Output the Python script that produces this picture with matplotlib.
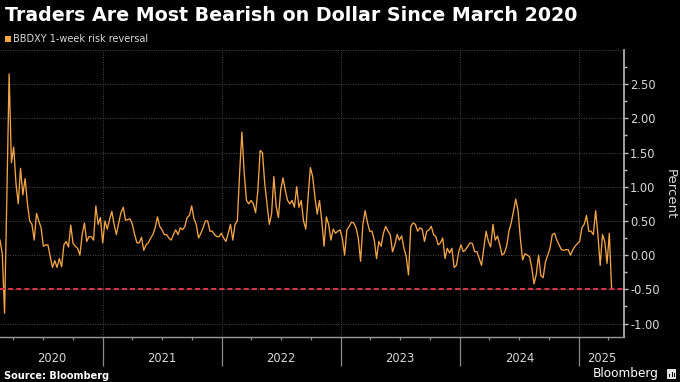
import matplotlib
matplotlib.use("Agg")
import matplotlib.pyplot as plt
import matplotlib.dates as mdates
import matplotlib.transforms as mtransforms
from matplotlib.patches import Rectangle
import pandas as pd

# ---------------- data (weekly readings of BBDXY 1-week risk reversal, %) ----------------
start_date = "2020-02-21"
rr_values = [
    0.22, 0.02, -0.85, 0.85, 2.65, 1.35, 1.58, 1.05, 0.75, 1.27,
    0.88, 1.12, 0.76, 0.50, 0.45, 0.22, 0.61, 0.50, 0.40, 0.13,
    0.15, 0.15, -0.02, -0.18, -0.08, -0.18, -0.05, -0.17, 0.15, 0.20,
    0.12, 0.44, 0.17, 0.13, 0.10, 0.00, 0.30, 0.47, 0.20, 0.27,
    0.27, 0.22, 0.72, 0.45, 0.55, 0.18, 0.50, 0.38, 0.52, 0.64,
    0.45, 0.30, 0.47, 0.62, 0.70, 0.51, 0.52, 0.53, 0.45, 0.30,
    0.18, 0.18, 0.26, 0.07, 0.15, 0.18, 0.25, 0.30, 0.40, 0.56,
    0.42, 0.37, 0.30, 0.30, 0.25, 0.22, 0.30, 0.37, 0.30, 0.40,
    0.37, 0.42, 0.55, 0.58, 0.72, 0.53, 0.45, 0.25, 0.32, 0.40,
    0.50, 0.50, 0.35, 0.35, 0.30, 0.27, 0.27, 0.32, 0.25, 0.20,
    0.32, 0.45, 0.22, 0.45, 0.50, 1.20, 1.80, 1.20, 0.80, 0.75,
    0.80, 0.75, 0.62, 0.95, 1.53, 1.50, 1.05, 0.75, 0.45, 0.60,
    1.15, 0.72, 0.55, 0.95, 1.13, 0.95, 0.80, 0.75, 0.80, 0.70,
    1.00, 0.70, 0.80, 0.50, 0.38, 0.85, 1.28, 1.15, 0.85, 0.60,
    0.80, 0.50, 0.13, 0.56, 0.45, 0.22, 0.38, 0.32, 0.35, 0.37,
    0.25, 0.00, 0.37, 0.42, 0.48, 0.47, 0.40, 0.25, -0.09, 0.45,
    0.65, 0.48, 0.35, 0.35, 0.22, -0.05, 0.20, 0.13, 0.32, 0.42,
    0.35, 0.30, 0.05, 0.15, 0.30, 0.22, 0.28, 0.10, -0.02, -0.29,
    0.42, 0.47, 0.45, 0.35, 0.40, 0.38, 0.20, 0.35, 0.37, 0.42,
    0.30, 0.27, 0.15, 0.18, 0.25, -0.05, 0.10, 0.03, 0.10, -0.18,
    -0.15, 0.05, 0.15, 0.05, 0.08, 0.13, 0.18, 0.17, 0.05, 0.05,
    -0.05, -0.15, 0.10, 0.35, 0.20, 0.12, 0.45, 0.22, 0.28, 0.15,
    0.00, 0.03, 0.13, 0.35, 0.47, 0.64, 0.82, 0.65, 0.25, -0.07,
    0.02, 0.00, -0.02, -0.18, -0.42, -0.28, 0.00, -0.30, -0.33, -0.10,
    0.00, 0.10, 0.30, 0.32, 0.22, 0.15, 0.08, 0.07, 0.08, 0.08,
    0.00, 0.08, 0.13, 0.17, 0.20, 0.40, 0.45, 0.58, 0.35, 0.35,
    0.30, 0.65, 0.30, -0.15, 0.30, 0.20, -0.12, 0.32, -0.50,
]
reference_level = -0.50
y_ticks = [-1.0, -0.5, 0.0, 0.5, 1.0, 1.5, 2.0, 2.5]
y_tick_labels = ["-1.00", "-0.50", "0.00", "0.50", "1.00", "1.50", "2.00", "2.50"]
years = [2020, 2021, 2022, 2023, 2024, 2025]
x_start = "2020-02-21"
x_end = "2025-05-19"

title = "Traders Are Most Bearish on Dollar Since March 2020"
legend_label = "BBDXY 1-week risk reversal"
y_label = "Percent"
source = "Source: Bloomberg"

dates = pd.date_range(start_date, periods=len(rr_values), freq="W-FRI")

# ---------------- styling ----------------
BG = "#000000"
LINE = "#f2a446"
RED = "#d8344c"
TXT = "#d8d8d8"
GRID = "#4a4a4a"
AXIS = "#bdbdbd"

W, H = 680, 382
fig = plt.figure(figsize=(W / 100, H / 100), dpi=100, facecolor=BG)

ax_left, ax_right, ax_top, ax_bottom = 0, 624, 50, 336.5
ax = fig.add_axes([ax_left / W, 1 - ax_bottom / H, (ax_right - ax_left) / W, (ax_bottom - ax_top) / H])
ax.set_facecolor(BG)

ax.plot(dates, rr_values, color=LINE, lw=0.95, zorder=3, solid_joinstyle="round")
ax.axhline(reference_level, color=RED, lw=1.5, dashes=(2.4, 1.5), zorder=4)

ax.set_ylim(-1.19, 3.0)
ax.set_xlim(pd.Timestamp(x_start), pd.Timestamp(x_end))

# y axis on right
ax.yaxis.tick_right()
ax.set_yticks(y_ticks)
ax.set_yticklabels(y_tick_labels)
ax.set_yticks([v + 0.25 for v in y_ticks], minor=True)
ax.tick_params(axis="y", which="major", length=3, width=1, color=AXIS, labelcolor=TXT,
               labelsize=8.3, pad=1.5)
ax.tick_params(axis="y", which="minor", length=2, width=1, color=AXIS)
fig.text(670 / W, 1 - 194 / H, y_label, rotation=-90, color=TXT, fontsize=9.5,
         ha="center", va="center")

# horizontal gridlines (including 3.0)
for gv in y_ticks + [3.0]:
    ax.axhline(gv, color=GRID, lw=0.7, ls=(0, (1, 1.5)), zorder=1)

# x axis: year separators as long major ticks, quarters as minor ticks
ax.xaxis.set_major_locator(mdates.YearLocator())
ax.xaxis.set_minor_locator(mdates.MonthLocator(bymonth=[4, 7, 10]))
ax.xaxis.set_major_formatter(plt.NullFormatter())
ax.tick_params(axis="x", which="major", length=21, width=0.9, color="#8c8c8c")
ax.tick_params(axis="x", which="minor", length=2.5, width=0.9, color="#8c8c8c")
ax.grid(axis="x", which="major", color=GRID, lw=0.7, ls=(0, (1, 1.5)), zorder=1)

for side in ["left", "top"]:
    ax.spines[side].set_visible(False)
ax.spines["right"].set_color(AXIS)
ax.spines["right"].set_linewidth(1.2)
ax.spines["bottom"].set_color("#9a9a9a")
ax.spines["bottom"].set_linewidth(1.0)

# year labels centred between boundaries
trans = mtransforms.blended_transform_factory(ax.transData, ax.transAxes)
xl0, xl1 = ax.get_xlim()
for yr in years:
    a = max(mdates.date2num(pd.Timestamp(f"{yr}-01-01")), xl0)
    b = min(mdates.date2num(pd.Timestamp(f"{yr + 1}-01-01")), xl1)
    ax.text((a + b) / 2, -(359 - ax_bottom) / (ax_bottom - ax_top), str(yr), transform=trans,
            ha="center", va="center", color=TXT, fontsize=8.3)

# title, legend, source, logo
fig.text(5 / W, 1 - 21 / H, title, color="white", fontsize=13.7, fontweight="bold", va="baseline")
fig.patches.append(Rectangle((5 / W, 1 - 42 / H), 6 / W, 6 / H, transform=fig.transFigure,
                             facecolor="#f5a53f", edgecolor="none"))
fig.text(13 / W, 1 - 42.5 / H, legend_label, color=TXT, fontsize=7, va="baseline")
fig.text(4 / W, 1 - 376 / H, source, color="white", fontsize=7, fontweight="bold", va="center")
fig.text(659 / W, 1 - 374 / H, "Bloomberg", color="white", fontsize=8.7, va="center", ha="right")
fig.patches.append(Rectangle((667 / W, 1 - 379 / H), 9 / W, 10 / H, transform=fig.transFigure,
                             facecolor="#e0e0e0", edgecolor="none"))
for bx, bh in [(669, 3), (671.5, 5), (674, 4)]:
    fig.patches.append(Rectangle((bx / W, 1 - 377 / H), 1.3 / W, bh / H, transform=fig.transFigure,
                                 facecolor="#000000", edgecolor="none"))

fig.savefig("out.png", dpi=100, facecolor=BG)
